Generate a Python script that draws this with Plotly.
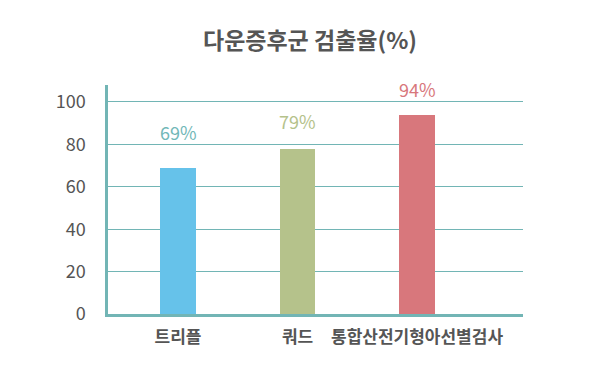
import plotly.graph_objects as go

categories = ["트리플", "쿼드", "통합산전기형아선별검사"]
values = [69, 78, 94]
value_labels = ["69%", "79%", "94%"]
bar_colors = ["#66C2EA", "#B5C28B", "#D8777C"]
label_colors = ["#72B8B8", "#B5C28B", "#D8777C"]
label_shifts = [36, 28, 26]
y_ticks = [0, 20, 40, 60, 80, 100]

teal = "#72B5B5"
gray = "#555555"
font_family = "Noto Sans CJK KR, Noto Sans, sans-serif"

fig = go.Figure()
fig.add_trace(go.Bar(
    x=categories, y=values, width=0.30,
    marker=dict(color=bar_colors, line=dict(width=0)),
    hoverinfo="skip",
))

for cat, val, txt, col, sh in zip(categories, values, value_labels, label_colors, label_shifts):
    fig.add_annotation(x=cat, y=val, text=txt, showarrow=False,
                       yanchor="middle", yshift=sh,
                       font=dict(size=18, color=col, family=font_family))

fig.update_layout(
    width=600, height=375,
    margin=dict(l=100, r=85, t=77, b=69),
    paper_bgcolor="white", plot_bgcolor="white",
    showlegend=False,
    font=dict(family=font_family, color=gray),
    title=dict(text="<b>다운증후군 검출율(%)</b>", x=302/600, xanchor="center",
               y=1 - 33/375, yanchor="middle", yref="container",
               font=dict(size=23, color=gray, family=font_family)),
    xaxis=dict(type="category", range=[-0.586, 2.887], automargin=False,
               showline=True, linecolor=teal, linewidth=2.5,
               showgrid=False, ticks="", ticklabelstandoff=6,
               tickfont=dict(size=17, color=gray, family=font_family),
               tickprefix="<b>", ticksuffix="</b>", fixedrange=True),
    yaxis=dict(range=[0, 108], tickvals=y_ticks, automargin=False,
               showline=True, linecolor=teal, linewidth=2.5,
               showgrid=True, gridcolor=teal, gridwidth=1,
               zeroline=False, ticks="", ticklabelstandoff=16,
               tickfont=dict(size=18, color=gray, family=font_family),
               fixedrange=True),
    bargap=0,
)

fig.write_html("out.html", config={"displayModeBar": False})
